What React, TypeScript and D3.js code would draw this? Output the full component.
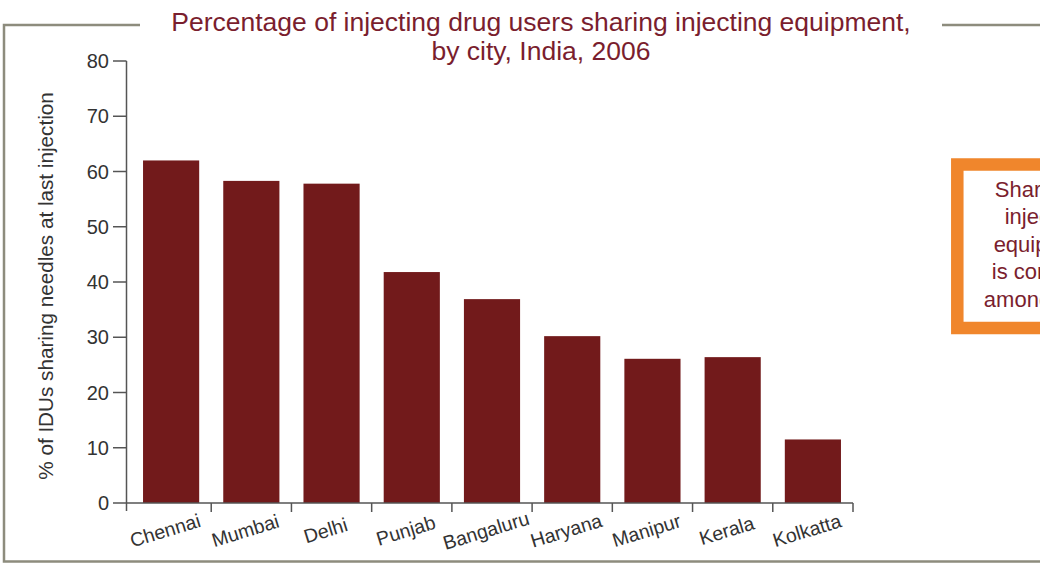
import React from "react";
import * as d3 from "d3";

const categories = ["Chennai", "Mumbai", "Delhi", "Punjab", "Bangaluru", "Haryana", "Manipur", "Kerala", "Kolkatta"];
const values = [62, 58.3, 57.8, 41.8, 36.9, 30.2, 26.1, 26.4, 11.5];
const yTicks = [0, 10, 20, 30, 40, 50, 60, 70, 80];
const titleLines = ["Percentage of injecting drug users sharing injecting equipment,", "by city, India, 2006"];
const yLabel = "% of IDUs sharing needles at last injection";
const boxLines = ["Sharing of", "injecting", "equipment", "is common", "among IDUs"];

const W = 1040;
const H = 563;
const FONT = "'Liberation Sans', Arial, Helvetica, sans-serif";
const BAR = "#721a1b";
const MAROON = "#7a1e2e";
const FRAME = "#8d8c7d";
const AXIS = "#555555";
const TEXT = "#333333";

export default function App() {
  const x = d3.scaleBand<string>().domain(categories).range([131, 853]).paddingInner(0.3).paddingOuter(0.15);
  const y = d3.scaleLinear().domain([0, 80]).range([503, 61]);
  const step = x.step();
  const bandStart = (c: string) => (x(c) as number) - step * 0.15;

  return (
    <svg width={W} height={H} style={{ position: "absolute", left: 0, top: 0, background: "#fff" }} fontFamily={FONT}>
      {/* frame */}
      <path d={`M140,25 L4,25 L4,561.5 L${W + 5},561.5`} fill="none" stroke={FRAME} strokeWidth={2.5} />
      <line x1={942} x2={W + 5} y1={25} y2={25} stroke={FRAME} strokeWidth={2.5} />

      {/* title */}
      {titleLines.map((t, i) => (
        <text key={i} x={541} y={31 + i * 29} textAnchor="middle" fontSize={26.5} fill={MAROON}>
          {t}
        </text>
      ))}

      {/* bars */}
      {categories.map((c, i) => (
        <rect key={c} x={x(c)} y={y(values[i])} width={x.bandwidth()} height={y(0) - y(values[i])} fill={BAR} />
      ))}

      {/* y axis */}
      <line x1={126.5} x2={126.5} y1={y(80)} y2={511} stroke={AXIS} strokeWidth={1.5} />
      {yTicks.map((t) => (
        <g key={t}>
          <line x1={113} x2={126.5} y1={y(t)} y2={y(t)} stroke={AXIS} strokeWidth={1.5} />
          <text x={109} y={y(t)} dy="0.36em" textAnchor="end" fontSize={20} fill={TEXT}>
            {t}
          </text>
        </g>
      ))}
      <text
        transform={`translate(53,${(y(0) + y(80)) / 2 + 4}) rotate(-90)`}
        textAnchor="middle"
        fontSize={20.7}
        fill={TEXT}
      >
        {yLabel}
      </text>

      {/* x axis */}
      <line x1={126} x2={853} y1={y(0)} y2={y(0)} stroke={AXIS} strokeWidth={1.5} />
      {categories.map((c) => {
        const bx = bandStart(c) + step;
        return <line key={c} x1={bx} x2={bx} y1={y(0)} y2={y(0) + 9} stroke={AXIS} strokeWidth={1.5} />;
      })}
      {categories.map((c) => {
        const cx = (x(c) as number) + x.bandwidth() / 2 - 4;
        return (
          <text
            key={c}
            transform={`translate(${cx},537) rotate(-17)`}
            textAnchor="middle"
            fontSize={19.5}
            fill={TEXT}
          >
            {c}
          </text>
        );
      })}

      {/* callout box */}
      <rect x={957.3} y={164.5} width={200} height={163.5} fill="#fff" stroke="#f0862c" strokeWidth={12.5} />
      {boxLines.map((t, i) => (
        <text key={i} x={1045} y={197 + i * 27.4} textAnchor="middle" fontSize={22} fill={MAROON}>
          {t}
        </text>
      ))}
    </svg>
  );
}
